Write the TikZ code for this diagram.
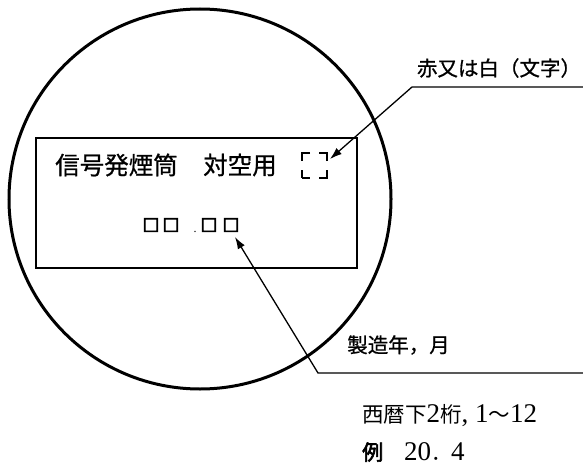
\documentclass[tikz,border=0pt]{standalone}
\usepackage{fontspec}
\setmainfont{Liberation Serif}
\newfontfamily\cjk{Noto Sans CJK JP}[FakeBold=0.8]
\newfontfamily\cjkplain{Noto Sans CJK JP}
\newfontfamily\cjkbold{Noto Sans CJK JP}[FakeBold=3]
\newfontfamily\cjksq{Noto Sans CJK JP}[FakeBold=6]
\usetikzlibrary{arrows.meta,shapes.geometric}
\begin{document}
\begin{tikzpicture}[x=1pt,y=-1pt,
  lead/.style={line width=1.3pt},
  arr/.style={lead,-{Latex[length=12pt,width=8pt]}},
  gt/.style={inner sep=0pt,font=\cjk\fontsize{24.5}{26}\selectfont},
  callout/.style={inner sep=0pt,font=\cjk\fontsize{20.5}{23}\selectfont},
  sq/.style={inner sep=0pt,font=\cjksq\fontsize{16.5}{17}\selectfont},
  note/.style={inner sep=0pt,font=\fontsize{27}{29}\selectfont},
  dbox/.style={draw,line width=1.5pt,minimum size=25pt,inner sep=0pt,
    dash pattern=on 16pt off 9pt,dash phase=8pt}]
\useasboundingbox (0,0) rectangle (583,468);
% plate outline
\node (plate) [draw,ellipse,line width=3pt,minimum width=382pt,minimum height=380pt,inner sep=0pt] at (200,199) {};
\node (label) [draw,line width=1.7pt,minimum width=321pt,minimum height=130pt,inner sep=0pt] at (196.5,203) {};
% first row
\node (name) [gt] at (116.5,165) {信号発煙筒};
\node (use) [gt] at (240,165) {対空用};
\node (db) [dbox] at (314.5,165.5) {};
% second row
\node (s1) [sq] at (151,225) {□};
\node (s2) [sq] at (171,225) {□};
\node (pt) [inner sep=0pt,anchor=base,font=\fontsize{12}{12}\selectfont] at (195,232) {.};
\node (s3) [sq] at (209,225) {□};
\node (s4) [sq] at (231,225) {□};
% callout 1
\node (c1) [callout] at (499,68) {赤又は白（文字）};
\coordinate (r1) at (583,87);
\coordinate (e1) at (412,87);
\coordinate (t1) at (330,159);
\draw[arr] (r1) -- (e1) -- (t1);
% callout 2
\node (c2) [callout] at (398.5,345) {製造年，月};
\coordinate (r2) at (583,373);
\coordinate (e2) at (318,373);
\coordinate (t2) at (235,237);
\draw[arr] (r2) -- (e2) -- (t2);
% notes
\node (n1) [note,anchor=base west] at (362,422)
  {{\cjkplain\fontsize{21.5}{22}\selectfont 西暦下}2{\cjkplain\fontsize{21.5}{22}\selectfont 桁}, 1{\cjkplain\fontsize{21.5}{22}\selectfont ～}12};
\node (n2) [note,anchor=base west] at (362,460)
  {{\cjkbold\fontsize{21}{22}\selectfont 例　}20{\cjkplain\fontsize{20}{22}\selectfont ．}4};
\end{tikzpicture}
\end{document}
